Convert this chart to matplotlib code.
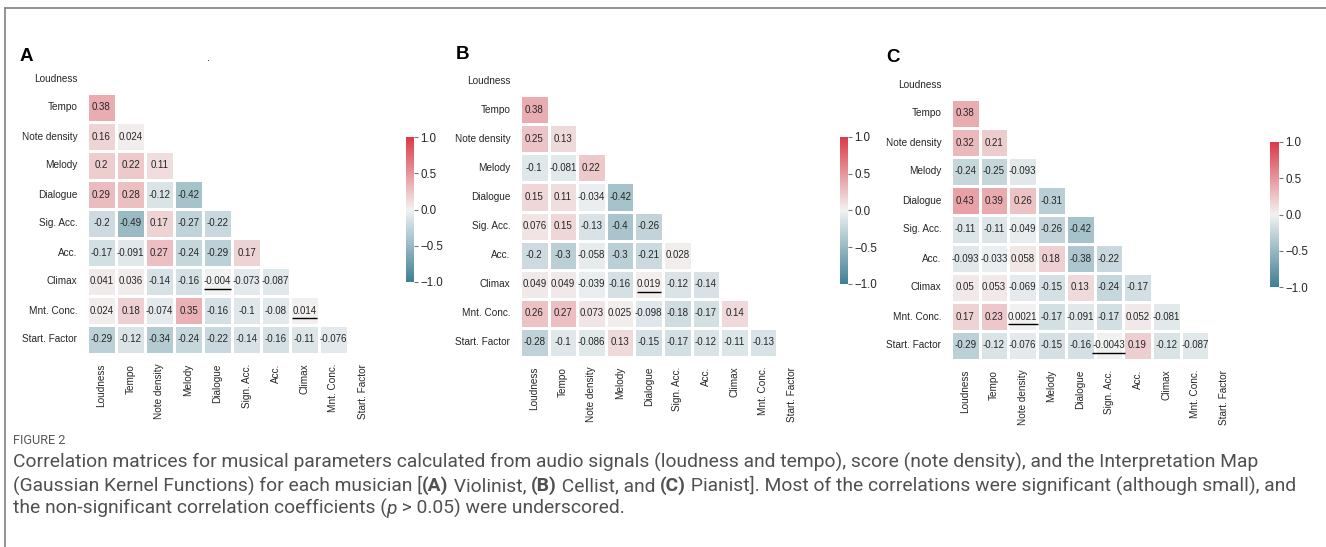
import numpy as np
import matplotlib
matplotlib.use("Agg")
import matplotlib.pyplot as plt
from matplotlib.lines import Line2D
import seaborn as sns

plt.rcParams['font.family'] = ['Liberation Sans', 'DejaVu Sans']

# ---------------- data ----------------
row_labels = ["Loudness", "Tempo", "Note density", "Melody", "Dialogue",
              "Sig. Acc.", "Acc.", "Climax", "Mnt. Conc.", "Start. Factor"]
col_labels = ["Loudness", "Tempo", "Note density", "Melody", "Dialogue",
              "Sign. Acc.", "Acc.", "Climax", "Mnt. Conc.", "Start. Factor"]

# lower triangles (row i has i values)
violinist = [
    [],
    [0.38],
    [0.16, 0.024],
    [0.2, 0.22, 0.11],
    [0.29, 0.28, -0.12, -0.42],
    [-0.2, -0.49, 0.17, -0.27, -0.22],
    [-0.17, -0.091, 0.27, -0.24, -0.29, 0.17],
    [0.041, 0.036, -0.14, -0.16, -0.004, -0.073, -0.087],
    [0.024, 0.18, -0.074, 0.35, -0.16, -0.1, -0.08, 0.014],
    [-0.29, -0.12, -0.34, -0.24, -0.22, -0.14, -0.16, -0.11, -0.076],
]
cellist = [
    [],
    [0.38],
    [0.25, 0.13],
    [-0.1, -0.081, 0.22],
    [0.15, 0.11, -0.034, -0.42],
    [0.076, 0.15, -0.13, -0.4, -0.26],
    [-0.2, -0.3, -0.058, -0.3, -0.21, 0.028],
    [0.049, 0.049, -0.039, -0.16, 0.019, -0.12, -0.14],
    [0.26, 0.27, 0.073, 0.025, -0.098, -0.18, -0.17, 0.14],
    [-0.28, -0.1, -0.086, 0.13, -0.15, -0.17, -0.12, -0.11, -0.13],
]
pianist = [
    [],
    [0.38],
    [0.32, 0.21],
    [-0.24, -0.25, -0.093],
    [0.43, 0.39, 0.26, -0.31],
    [-0.11, -0.11, -0.049, -0.26, -0.42],
    [-0.093, -0.033, 0.058, 0.18, -0.38, -0.22],
    [0.05, 0.053, -0.069, -0.15, 0.13, -0.24, -0.17],
    [0.17, 0.23, 0.0021, -0.17, -0.091, -0.17, 0.052, -0.081],
    [-0.29, -0.12, -0.076, -0.15, -0.16, -0.0043, 0.19, -0.12, -0.087],
]
# non-significant cells (row, col) -> underlined
nonsig_violinist = [(7, 4), (8, 7)]
nonsig_cellist = [(7, 4)]
nonsig_pianist = [(8, 2), (9, 5)]

panel_letters = ["A", "B", "C"]

# ---------------- layout ----------------
W, H = 1326, 547
fig = plt.figure(figsize=(W / 100, H / 100), dpi=100)
renderer = fig.canvas.get_renderer()

def px_rect(x0, y0, x1, y1):
    return [x0 / W, 1 - y1 / H, (x1 - x0) / W, (y1 - y0) / H]

heat_rects = [px_rect(87, 64, 377, 354), px_rect(520, 66, 806, 357), px_rect(951, 70, 1238, 360)]
cbar_rects = [px_rect(406, 137, 414, 282), px_rect(840, 137, 848, 284), px_rect(1270, 142, 1279, 287)]
letter_pos = [(20, 61), (456, 59), (886, 62)]

cmap = sns.diverging_palette(220, 10, as_cmap=True)

def full_matrix(rows):
    n = len(rows)
    m = np.full((n, n), np.nan)
    for i, r in enumerate(rows):
        for j, v in enumerate(r):
            m[i, j] = v
    return m

mats = [violinist, cellist, pianist]
nonsigs = [nonsig_violinist, nonsig_cellist, nonsig_pianist]

for k in range(3):
    data = full_matrix(mats[k])
    mask = np.triu(np.ones_like(data, dtype=bool))
    ax = fig.add_axes(heat_rects[k])
    cax = fig.add_axes(cbar_rects[k])
    sns.heatmap(data, mask=mask, cmap=cmap, vmin=-1, vmax=1, center=0,
                annot=True, fmt=".2g", annot_kws={"fontsize": 7, "color": "#262626"},
                linewidths=0.8, linecolor="white", square=False,
                ax=ax, cbar_ax=cax,
                xticklabels=col_labels, yticklabels=row_labels)
    ax.tick_params(length=0, labelsize=7.2, colors="#262626", pad=7)
    ax.set_xticklabels(col_labels, rotation=90)
    ax.set_yticklabels(row_labels, rotation=0)
    cax.tick_params(labelsize=8.3, length=3, width=0.8, color="#777777",
                    labelcolor="#262626", pad=1.5)
    cax.set_yticks([-1, -0.5, 0, 0.5, 1])
    for s in cax.spines.values():
        s.set_visible(False)

    # underline non-significant coefficients
    fig.canvas.draw()
    for (r, c) in nonsigs[k]:
        for t in ax.texts:
            tx, ty = t.get_position()
            if abs(tx - (c + 0.5)) < 1e-6 and abs(ty - (r + 0.5)) < 1e-6:
                bb = t.get_window_extent(renderer)
                inv = ax.transData.inverted()
                (x0, _), (x1, _) = inv.transform([(bb.x0, 0), (bb.x1, 0)])
                yl = r + 0.5 + 0.27
                ax.plot([x0, x1], [yl, yl], color="black", lw=1.0, solid_capstyle="butt")
    fig.text(letter_pos[k][0] / W, 1 - letter_pos[k][1] / H, panel_letters[k],
             fontsize=13.5, fontweight="bold", color="black", va="baseline", ha="left")

# stray dot in panel A
fig.text(207 / W, 1 - 61 / H, ".", fontsize=8, color="black", va="baseline")

# frame lines
fig.add_artist(Line2D([4.5 / W, 1], [1 - 7.5 / H, 1 - 7.5 / H], color="#8a8a8a", lw=1.3,
                      transform=fig.transFigure))
fig.add_artist(Line2D([4.5 / W, 4.5 / W], [0, 1 - 7.5 / H], color="#8a8a8a", lw=1.3,
                      transform=fig.transFigure))

# ---------------- caption ----------------
cap_family = ['Roboto', 'DejaVu Sans']
cap_color = "#505050"

def run_width(text, size, **kw):
    t = fig.text(0, 0, "|" + text + "|", fontsize=size, family=cap_family, **kw)
    t0 = fig.text(0, 0, "||", fontsize=size, family=cap_family, **kw)
    w = t.get_window_extent(renderer).width - t0.get_window_extent(renderer).width
    t.remove(); t0.remove()
    return w

def runs_width(runs, size):
    return sum(run_width(text, size, **kw) for text, kw in runs)

def draw_runs(x_px, y_px, runs, size, color=cap_color):
    x = x_px
    for text, kw in runs:
        fig.text(x / W, 1 - y_px / H, text, fontsize=size, family=cap_family,
                 color=color, va="baseline", ha="left", **kw)
        x += run_width(text, size, **kw)

line1 = [("Correlation matrices for musical parameters calculated from audio signals (loudness and tempo), "
          "score (note density), and the Interpretation Map", {})]
line2 = [("(Gaussian Kernel Functions) for each musician [", {}), ("(A)", {"fontweight": "bold"}),
         (" Violinist, ", {}), ("(B)", {"fontweight": "bold"}), (" Cellist, and ", {}),
         ("(C)", {"fontweight": "bold"}),
         (" Pianist]. Most of the correlations were significant (although small), and", {})]
line3 = [("the non-significant correlation coefficients (", {}), ("p", {"fontstyle": "italic"}),
         (" > 0.05) were underscored.", {})]

base = 12
cap_size = min(base * (1277 / runs_width(line1, base)),
               base * (1280 / runs_width(line2, base)))

draw_runs(13, 444, [("FIGURE 2", {})], 9.2, color="#5a5a5a")
draw_runs(13, 468, line1, cap_size)
draw_runs(13, 491, line2, cap_size)
draw_runs(13, 514, line3, cap_size)

fig.savefig("out.png", dpi=100, facecolor="white")
